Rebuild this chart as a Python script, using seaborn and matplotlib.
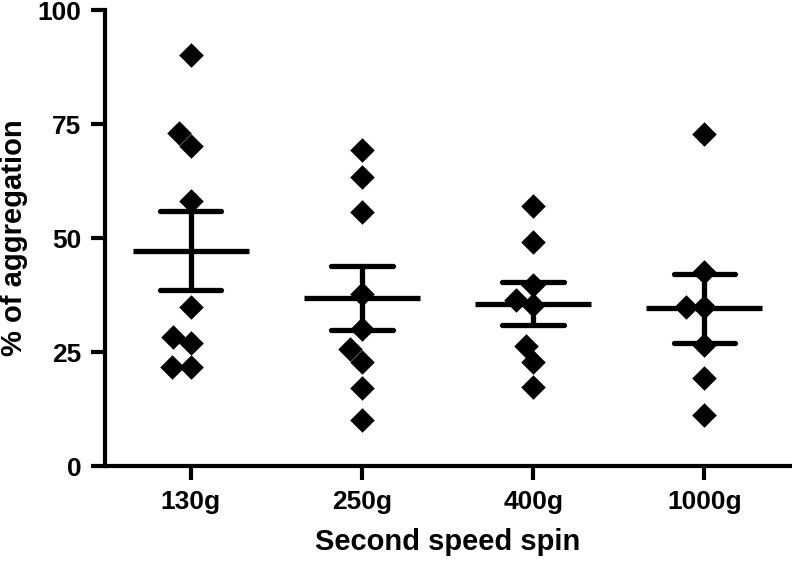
import matplotlib
matplotlib.use("Agg")
import matplotlib.pyplot as plt
import seaborn as sns
import pandas as pd

# values (% of aggregation per spin speed)
spins = ["130g", "250g", "400g", "1000g"]
agg_130 = [90.2, 73.0, 70.1, 58.1, 34.9, 28.2, 27.0, 21.7, 21.7]
agg_250 = [69.3, 63.3, 55.6, 37.8, 30.0, 25.7, 22.8, 17.0, 10.1]
agg_400 = [57.1, 49.2, 39.8, 36.5, 35.2, 26.3, 22.8, 17.4]
agg_1000 = [72.9, 42.5, 34.9, 34.9, 26.5, 19.2, 11.2]
y_ticks = [0, 25, 50, 75, 100]

df = pd.DataFrame({
    "spin": ["130g"] * len(agg_130) + ["250g"] * len(agg_250)
            + ["400g"] * len(agg_400) + ["1000g"] * len(agg_1000),
    "agg": agg_130 + agg_250 + agg_400 + agg_1000,
})

sns.set_style("ticks")
plt.rcParams["font.family"] = ["Liberation Sans", "DejaVu Sans"]
plt.rcParams["font.weight"] = "bold"
plt.rcParams["axes.labelweight"] = "bold"
for key in ["text.color", "axes.labelcolor", "xtick.color", "ytick.color", "axes.edgecolor"]:
    plt.rcParams[key] = "black"

fig = plt.figure(figsize=(7.92, 5.62), dpi=100)
ax = fig.add_axes([0.1326, 0.1708, 0.8649, 0.8114])

## scatter of individual values
sns.swarmplot(data=df, x="spin", y="agg", order=spins, marker="D", size=12.5,
              color="black", linewidth=0, ax=ax)
## mean +/- SEM
sns.pointplot(data=df, x="spin", y="agg", order=spins, errorbar="se",
              capsize=0.36, color="black", marker="_", markersize=83,
              markeredgewidth=3.8, linestyle="none",
              err_kws={"linewidth": 3.8}, ax=ax)

ax.set_xlim(-0.5, 3.5)
ax.set_ylim(0, 100)
ax.set_yticks(y_ticks)
sns.despine(ax=ax)
for side in ["left", "bottom"]:
    ax.spines[side].set_linewidth(3)
ax.tick_params(width=3, length=10, labelsize=19, pad=7)

ax.set_xlabel("Second speed spin", fontsize=21)
ax.set_ylabel("% of aggregation", fontsize=21)
ax.xaxis.set_label_coords(0.5, -0.136)
ax.yaxis.set_label_coords(-0.112, 0.5)

plt.savefig("out.png", dpi=100)
